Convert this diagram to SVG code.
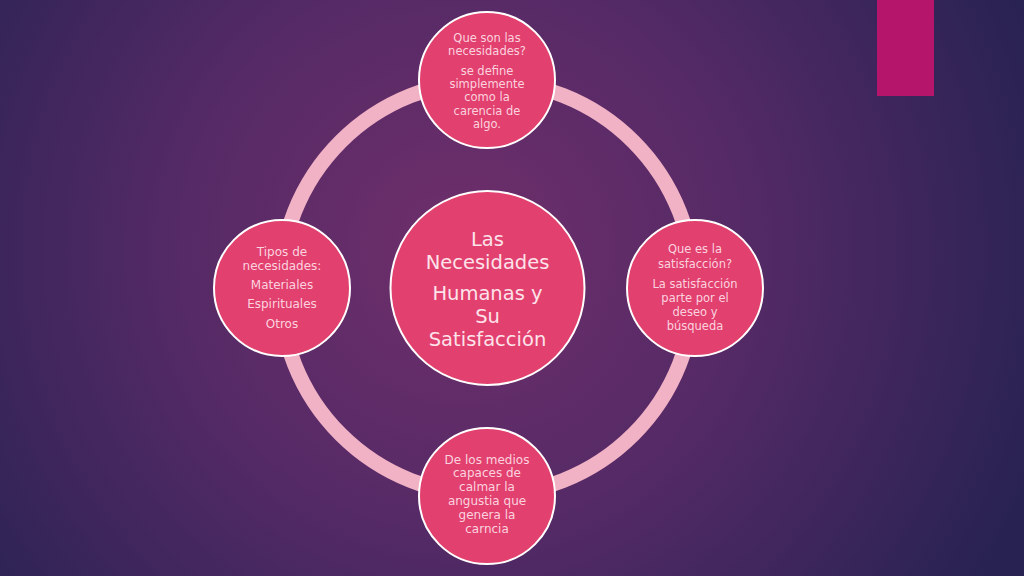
<svg xmlns="http://www.w3.org/2000/svg" width="1024" height="576" viewBox="0 0 1024 576">
<defs>
<radialGradient id="bg" cx="460" cy="250" r="620" gradientUnits="userSpaceOnUse">
<stop offset="0" stop-color="#6f2f6b"/>
<stop offset="0.45" stop-color="#552a66"/>
<stop offset="1" stop-color="#272252"/>
</radialGradient>
<style>
.node{fill:#e2406f;stroke:#ffffff;stroke-width:2}
.t{font-family:"DejaVu Sans","Liberation Sans",sans-serif;font-size:11.5px;fill:#fbd3df;text-anchor:middle}
.c{font-family:"DejaVu Sans","Liberation Sans",sans-serif;font-size:19.5px;fill:#fde3ea;text-anchor:middle}
</style>
</defs>
<rect x="0" y="0" width="1024" height="576" fill="url(#bg)"/>
<rect x="877" y="0" width="57" height="96" fill="#b5156a"/>
<g id="connectors">
<circle cx="487" cy="288" r="207" fill="none" stroke="#f0b2c4" stroke-width="15"/>
</g>
<g id="center">
<circle class="node" cx="487.5" cy="288" r="97"/>
<text class="c"><tspan x="487.5" y="246">Las</tspan><tspan x="487.5" y="269">Necesidades</tspan><tspan x="487.5" y="300">Humanas y</tspan><tspan x="487.5" y="323">Su</tspan><tspan x="487.5" y="346">Satisfacción</tspan></text>
</g>
<g id="top">
<circle class="node" cx="487" cy="80" r="68"/>
<text class="t"><tspan x="487" y="42">Que son las</tspan><tspan x="487" y="55">necesidades?</tspan><tspan x="487" y="75">se define</tspan><tspan x="487" y="88">simplemente</tspan><tspan x="487" y="101">como la</tspan><tspan x="487" y="115">carencia de</tspan><tspan x="487" y="128">algo.</tspan></text>
</g>
<g id="right">
<circle class="node" cx="695" cy="288" r="68"/>
<text class="t"><tspan x="695" y="253">Que es la</tspan><tspan x="695" y="268">satisfacción?</tspan><tspan x="695" y="288">La satisfacción</tspan><tspan x="695" y="302">parte por el</tspan><tspan x="695" y="316">deseo y</tspan><tspan x="695" y="330">búsqueda</tspan></text>
</g>
<g id="left">
<circle class="node" cx="282" cy="288" r="68"/>
<text class="t" style="font-size:12px"><tspan x="282" y="256">Tipos de</tspan><tspan x="282" y="270">necesidades:</tspan><tspan x="282" y="289">Materiales</tspan><tspan x="282" y="308">Espirituales</tspan><tspan x="282" y="328">Otros</tspan></text>
</g>
<g id="bottom">
<circle class="node" cx="487" cy="496" r="68"/>
<text class="t" style="font-size:12px"><tspan x="487" y="464">De los medios</tspan><tspan x="487" y="477">capaces de</tspan><tspan x="487" y="491">calmar la</tspan><tspan x="487" y="505">angustia que</tspan><tspan x="487" y="519">genera la</tspan><tspan x="487" y="533">carncia</tspan></text>
</g>
</svg>
